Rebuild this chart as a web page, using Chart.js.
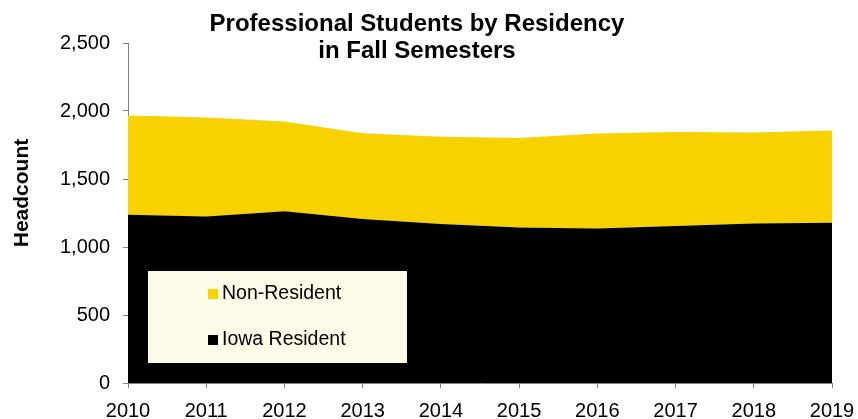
<!DOCTYPE html>
<html>
<head>
<meta charset="utf-8">
<script src="https://cdn.jsdelivr.net/npm/chart.js@4.4.1/dist/chart.umd.min.js"></script>
<style>
  html, body { margin: 0; padding: 0; background: #fff; }
  #wrap { width: 858px; height: 419px; position: relative; }
</style>
</head>
<body>
<div id="wrap"><canvas id="grafico" width="858" height="419"></canvas></div>
<script>
// ==============================
// DATOS
// ==============================
const anios = ["2010", "2011", "2012", "2013", "2014", "2015", "2016", "2017", "2018", "2019"];
const residentes = [1237, 1225, 1262, 1205, 1170, 1144, 1136, 1154, 1173, 1178];
const noResidentes = [729, 728, 660, 631, 641, 658, 698, 692, 668, 678];
const tituloLineas = ["Professional Students by Residency", "in Fall Semesters"];

const AMARILLO = "#F7D100";
const NEGRO = "#000000";
const GRIS = "#808080";
const FUENTE = "'Liberation Sans', Arial, sans-serif";

// Titulo (centrado un poco a la izquierda del area del grafico) y titulo del eje Y
const pluginTitulo = {
  id: "titulo",
  afterDraw(chart) {
    const ctx = chart.ctx;
    ctx.save();
    ctx.fillStyle = "#000";
    ctx.font = "bold 24px " + FUENTE;
    ctx.textAlign = "center";
    ctx.textBaseline = "middle";
    ctx.fillText(tituloLineas[0], 417, 24);
    ctx.fillText(tituloLineas[1], 417, 51);
    ctx.translate(22, 193);
    ctx.rotate(-Math.PI / 2);
    ctx.font = "bold 21px " + FUENTE;
    ctx.fillText("Headcount", 0, 0);
    ctx.restore();
  }
};

// Leyenda dentro del grafico con fondo crema
const pluginLeyenda = {
  id: "leyendaCaja",
  afterDatasetsDraw(chart) {
    const ctx = chart.ctx;
    ctx.save();
    ctx.fillStyle = "#FEFAE8";
    ctx.fillRect(148, 271, 259, 92);
    const items = chart.data.datasets.slice().reverse();
    ctx.font = "19.5px " + FUENTE;
    ctx.textBaseline = "middle";
    ctx.textAlign = "left";
    items.forEach((ds, i) => {
      const y = 294 + i * 46;
      ctx.fillStyle = ds.backgroundColor;
      ctx.fillRect(208, y - 5, 10, 10);
      ctx.fillStyle = "#000";
      ctx.fillText(ds.label, 222, y);
    });
    ctx.restore();
  }
};

const ctx = document.getElementById("grafico").getContext("2d");
const grafico = new Chart(ctx, {
  type: "line",
  data: {
    labels: anios,
    datasets: [
      {
        label: "Iowa Resident",
        data: residentes,
        backgroundColor: NEGRO,
        borderWidth: 0,
        pointRadius: 0,
        fill: "origin"
      },
      {
        label: "Non-Resident",
        data: noResidentes,
        backgroundColor: AMARILLO,
        borderWidth: 0,
        pointRadius: 0,
        fill: "-1"
      }
    ]
  },
  options: {
    responsive: false,
    animation: false,
    layout: { padding: { top: 43, right: 26, left: 0, bottom: 0 } },
    plugins: {
      legend: { display: false },
      title: { display: false },
      tooltip: { enabled: false }
    },
    scales: {
      x: {
        grid: { drawOnChartArea: false, tickLength: 5, color: GRIS },
        border: { color: GRIS, width: 1 },
        ticks: { color: "#000", font: { size: 20, family: FUENTE }, padding: 11, maxRotation: 0 },
        afterFit(scale) {
          scale.height = 36;
          scale.paddingLeft = 0;
          scale.paddingRight = 0;
        }
      },
      y: {
        stacked: true,
        min: 0,
        max: 2500,
        grid: { drawOnChartArea: false, tickLength: 5, color: GRIS },
        border: { color: GRIS, width: 1 },
        ticks: {
          stepSize: 500,
          color: "#000",
          font: { size: 20, family: FUENTE },
          padding: 13,
          callback: v => v.toLocaleString("en-US")
        },
        afterFit(scale) { scale.width = 128; scale.paddingTop = 0; scale.paddingBottom = 0; }
      }
    }
  },
  plugins: [pluginTitulo, pluginLeyenda]
});
</script>
</body>
</html>
